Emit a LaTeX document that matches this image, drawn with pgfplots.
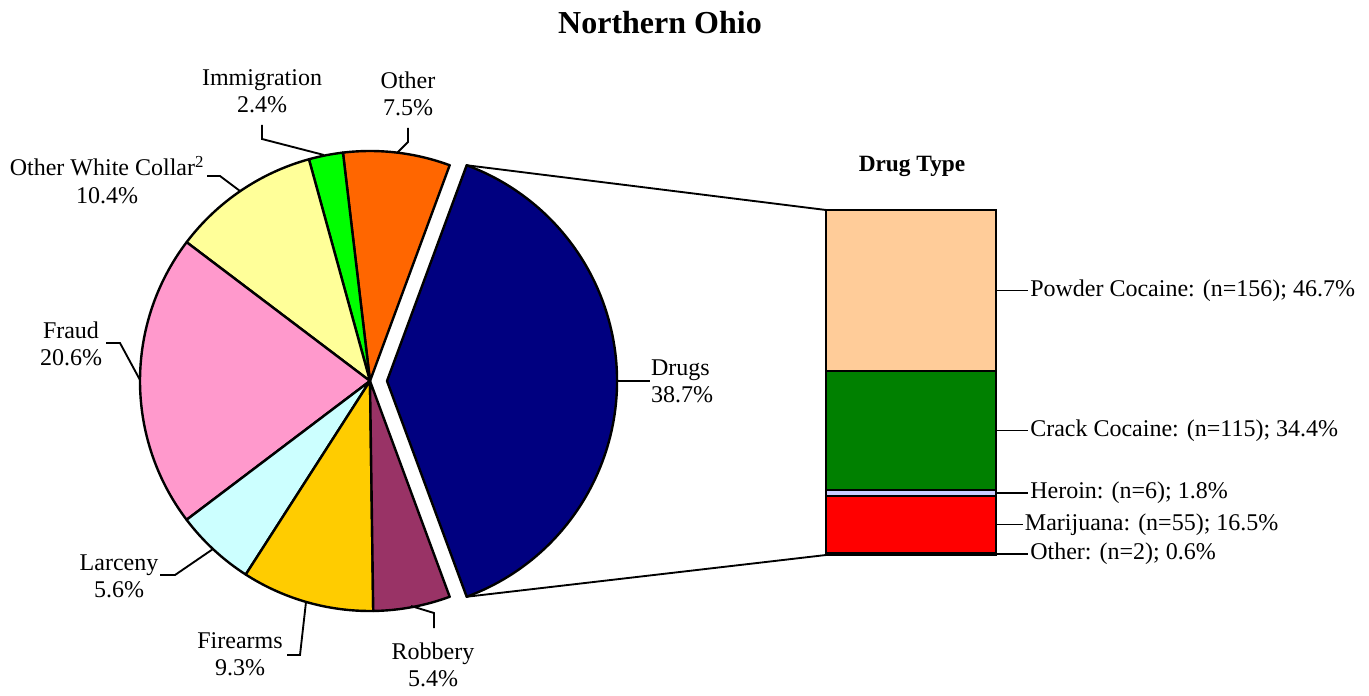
\documentclass[border=0pt]{standalone}
\usepackage{pgfplots}
\pgfplotsset{compat=1.18}
\usepackage{fontspec}
\setmainfont{Liberation Serif}
\definecolor{drugsC}{HTML}{000080}
\definecolor{otherC}{HTML}{FF6600}
\definecolor{immC}{HTML}{00FF00}
\definecolor{owcC}{HTML}{FFFF99}
\definecolor{fraudC}{HTML}{FF99CC}
\definecolor{larcC}{HTML}{CCFFFF}
\definecolor{fireC}{HTML}{FFCC00}
\definecolor{robC}{HTML}{993366}
\definecolor{powderC}{HTML}{FFCC99}
\definecolor{crackC}{HTML}{008000}
\definecolor{heroinC}{HTML}{CCCCFF}
\definecolor{marijC}{HTML}{FF0000}
\definecolor{odrugC}{HTML}{000000}
% pie values (percent)
\def\vDrugs{38.7}
\def\vOther{7.5}
\def\vImm{2.4}
\def\vOWC{10.4}
\def\vFraud{20.6}
\def\vLarc{5.6}
\def\vFire{9.3}
\def\vRob{5.4}
\pgfmathsetmacro{\tot}{\vDrugs+\vOther+\vImm+\vOWC+\vFraud+\vLarc+\vFire+\vRob}
\pgfmathsetmacro{\aA}{\vDrugs/\tot*180}
\pgfmathsetmacro{\aB}{\aA+\vOther/\tot*360}
\pgfmathsetmacro{\aC}{\aB+\vImm/\tot*360}
\pgfmathsetmacro{\aD}{\aC+\vOWC/\tot*360}
\pgfmathsetmacro{\aE}{\aD+\vFraud/\tot*360}
\pgfmathsetmacro{\aF}{\aE+\vLarc/\tot*360}
\pgfmathsetmacro{\aG}{\aF+\vFire/\tot*360}
\pgfmathsetmacro{\aH}{360-\aA}
\pgfmathsetmacro{\aN}{-\aA}
\newcommand{\slice}[4]{%
  \filldraw[fill=#4, draw=black, line width=1.8pt, line join=round]
    (axis cs:#1) -- ++(#2:172.5pt) arc[start angle=#2, end angle=#3, radius=172.5pt] -- cycle;}
\begin{document}%
\begin{tikzpicture}
\begin{axis}[at={(0,0)}, anchor=south west, x=0.75pt, y=0.75pt,
  xmin=0, xmax=1369, ymin=0, ymax=690, y dir=reverse,
  hide axis, ticks=none, clip=false]
  \fontsize{18}{20.5}\selectfont
  \path (axis cs:0,0) rectangle (axis cs:1369,690);
  % pie
  \slice{387,381}{\aN}{\aA}{drugsC}
  \slice{370,381}{\aA}{\aB}{otherC}
  \slice{370,381}{\aB}{\aC}{immC}
  \slice{370,381}{\aC}{\aD}{owcC}
  \slice{370,381}{\aD}{\aE}{fraudC}
  \slice{370,381}{\aE}{\aF}{larcC}
  \slice{370,381}{\aF}{\aG}{fireC}
  \slice{370,381}{\aG}{\aH}{robC}
  % connectors to bar
  \draw[line width=1.4pt] (axis cs:387,381) ++(\aA:172.5pt) -- (axis cs:826,210);
  \draw[line width=1.4pt] (axis cs:387,381) ++(\aN:172.5pt) -- (axis cs:826,555);
  % leader lines
  \draw[line width=1.4pt] (axis cs:262,125) -- (axis cs:262,139) -- (axis cs:324,155);
  \draw[line width=1.4pt] (axis cs:408,128) -- (axis cs:408,142) -- (axis cs:397,153);
  \draw[line width=1.4pt] (axis cs:207,176) -- (axis cs:220,176) -- (axis cs:240,191);
  \draw[line width=1.4pt] (axis cs:106,343) -- (axis cs:120,343) -- (axis cs:140,380);
  \draw[line width=1.4pt] (axis cs:160,575) -- (axis cs:175,575) -- (axis cs:213,549);
  \draw[line width=1.4pt] (axis cs:287,655) -- (axis cs:300,655) -- (axis cs:306,602);
  \draw[line width=1.4pt] (axis cs:434,628) -- (axis cs:434,613) -- (axis cs:411,606);
  \draw[line width=1.4pt] (axis cs:617,381) -- (axis cs:650,381);
  % labels
  \node[align=center] at (axis cs:262,91) {Immigration\\2.4\%};
  \node[align=center] at (axis cs:408,94) {Other\\7.5\%};
  \node[align=center] at (axis cs:107,180) {Other White Collar\textsuperscript{2}\\10.4\%};
  \node[align=center] at (axis cs:71,344) {Fraud\\20.6\%};
  \node[align=center] at (axis cs:119,576) {Larceny\\5.6\%};
  \node[align=center] at (axis cs:240,654) {Firearms\\9.3\%};
  \node[align=center] at (axis cs:433,665) {Robbery\\5.4\%};
  \node[align=left] at (axis cs:682,381) {Drugs\\38.7\%};
  % titles
  \node at (axis cs:660,23) {\fontsize{24}{28}\selectfont\bfseries Northern Ohio};
  \node at (axis cs:912,166) {\fontsize{17.5}{20}\selectfont\bfseries Drug Type};
\end{axis}
\begin{axis}[at={(619.5pt,101.25pt)}, anchor=south west, scale only axis,
  width=127.5pt, height=258.75pt, xmin=0, xmax=1, ymin=0, ymax=100,
  hide axis, ticks=none, clip=false, ybar stacked, bar width=127.5pt,
  every axis plot/.append style={draw=black, line width=1.8pt}]
  \addplot[fill=odrugC] coordinates {(0.5,0.6)};
  \addplot[fill=marijC] coordinates {(0.5,16.5)};
  \addplot[fill=heroinC] coordinates {(0.5,1.8)};
  \addplot[fill=crackC] coordinates {(0.5,34.4)};
  \addplot[fill=powderC] coordinates {(0.5,46.7)};
  \fontsize{18}{20.5}\selectfont
  \draw[line width=1.4pt] (axis cs:1,0.3) -- ++(24pt,0) node[anchor=west, inner sep=1pt] {Other: (n=2); 0.6\%};
  \draw[line width=1.4pt] (axis cs:1,8.85) -- ++(20pt,0) node[anchor=west, inner sep=1pt] {Marijuana: (n=55); 16.5\%};
  \draw[line width=1.4pt] (axis cs:1,18.0) -- ++(24pt,0) node[anchor=west, inner sep=1pt] {Heroin: (n=6); 1.8\%};
  \draw[line width=1.4pt] (axis cs:1,36.1) -- ++(24pt,0) node[anchor=west, inner sep=1pt] {Crack Cocaine: (n=115); 34.4\%};
  \draw[line width=1.4pt] (axis cs:1,76.65) -- ++(24pt,0) node[anchor=west, inner sep=1pt] {Powder Cocaine: (n=156); 46.7\%};
\end{axis}
\end{tikzpicture}%
\end{document}
